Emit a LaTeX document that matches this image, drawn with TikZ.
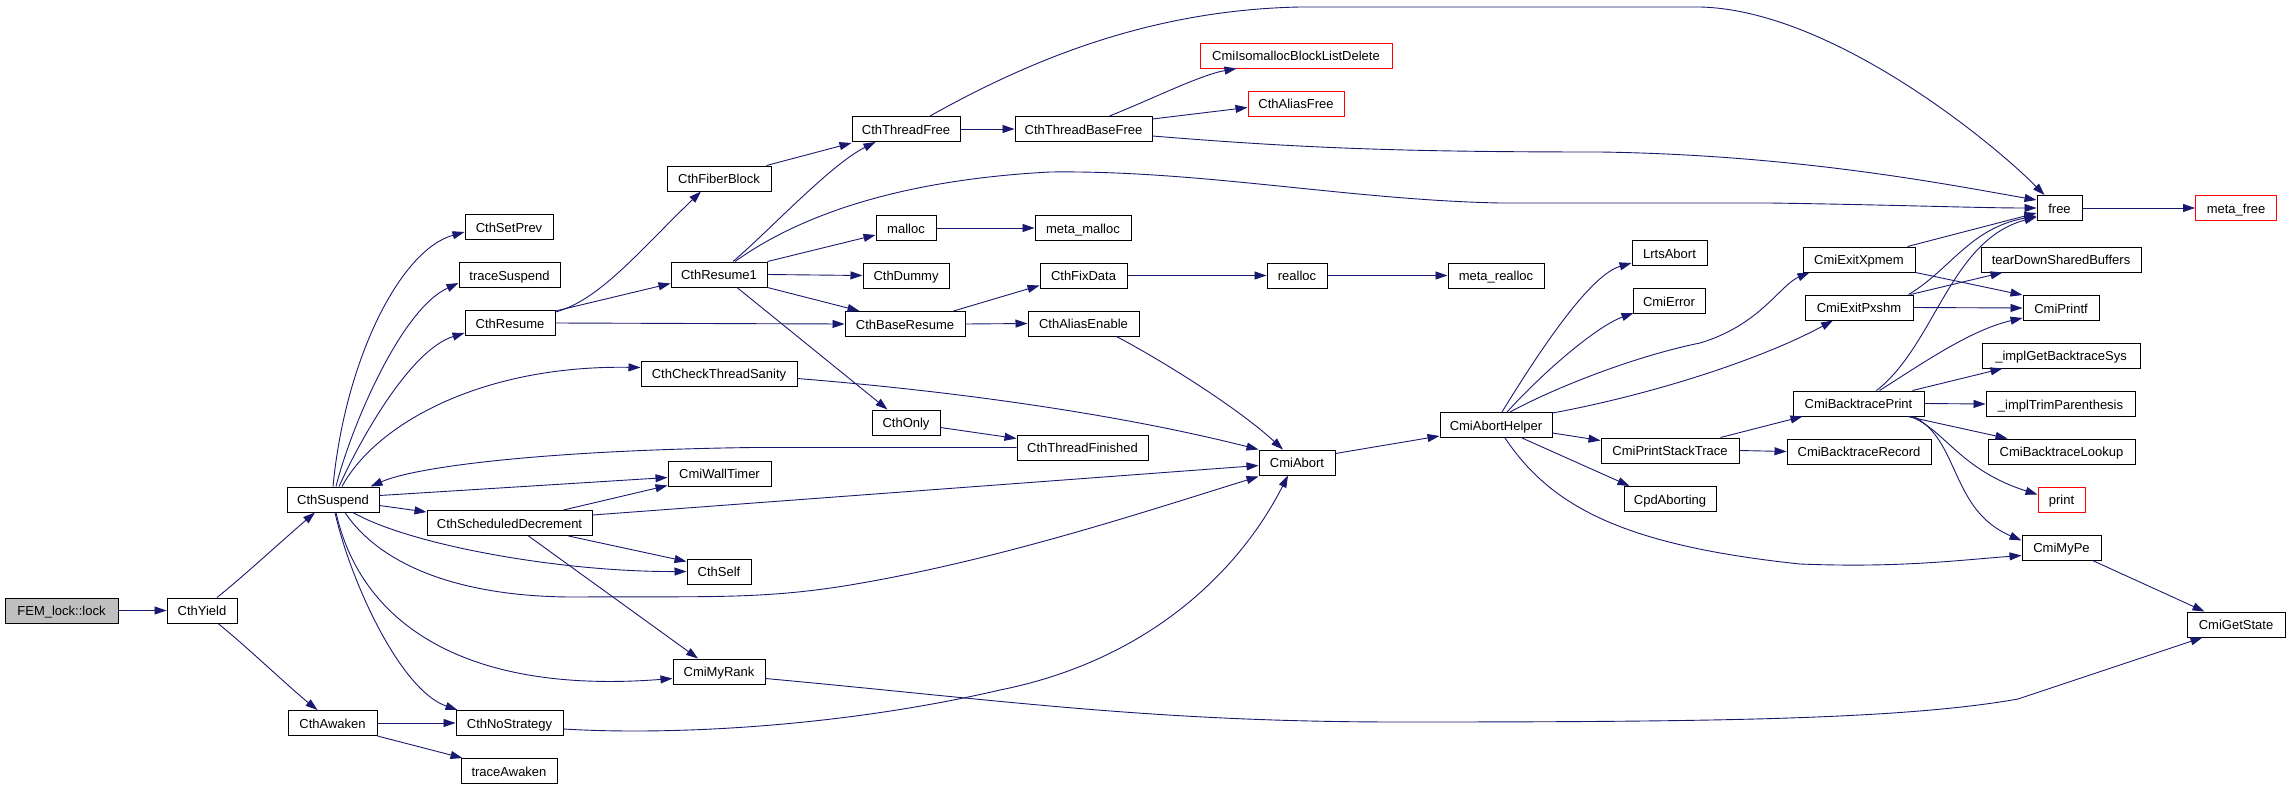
\documentclass[tikz,border=0pt]{standalone}
\usepackage{fontspec}
\setmainfont{Liberation Sans}
\usetikzlibrary{arrows.meta,calc}
\definecolor{edgeblue}{HTML}{191970}
\definecolor{rootgray}{HTML}{BFBFBF}
\begin{document}
\begin{tikzpicture}[x=1pt,y=-1pt,
  fn/.style={draw=black, line width=1pt, fill=white, minimum height=25pt, inner sep=0pt,
    text height=10pt, text depth=0pt, font=\fontsize{13}{15}\selectfont, text=black},
  ext/.style={fn, draw=red},
  root/.style={fn, fill=rootgray},
  call/.style={draw=edgeblue, line width=0.9pt, -{Triangle[length=12pt,width=8pt,fill=edgeblue]}},
]
\fill[white] (0,0) rectangle (2288,787);
\useasboundingbox (0,0) rectangle (2288,787);

% nodes
\node[root, minimum width=113] (fem) at (61.5,610.5) {FEM\_lock::lock};
\node[fn, minimum width=70] (yield) at (202,610.5) {CthYield};
\node[fn, minimum width=92] (suspend) at (333,499.5) {CthSuspend};
\node[fn, minimum width=89] (awaken) at (332.5,723) {CthAwaken};
\node[fn, minimum width=88] (setprev) at (509,227) {CthSetPrev};
\node[fn, minimum width=101] (tracesusp) at (509.5,275) {traceSuspend};
\node[fn, minimum width=90] (resume) at (510,323) {CthResume};
\node[fn, minimum width=165] (sched) at (509.5,523) {CthScheduledDecrement};
\node[fn, minimum width=107] (nostrat) at (509.5,723) {CthNoStrategy};
\node[fn, minimum width=96] (traceawk) at (509,771) {traceAwaken};
\node[fn, minimum width=104] (fiber) at (719,178.5) {CthFiberBlock};
\node[fn, minimum width=96] (resume1) at (719,274.5) {CthResume1};
\node[fn, minimum width=156] (sanity) at (719,373.5) {CthCheckThreadSanity};
\node[fn, minimum width=103] (walltimer) at (719.5,473.5) {CmiWallTimer};
\node[fn, minimum width=64] (self) at (719,571.5) {CthSelf};
\node[fn, minimum width=92] (myrank) at (719,671.5) {CmiMyRank};
\node[fn, minimum width=108] (thfree) at (906,129) {CthThreadFree};
\node[fn, minimum width=60] (malloc) at (906,228) {malloc};
\node[fn, minimum width=86] (dummy) at (906,275.5) {CthDummy};
\node[fn, minimum width=120] (baseres) at (905,324) {CthBaseResume};
\node[fn, minimum width=68] (only) at (906,422.5) {CthOnly};
\node[fn, minimum width=137] (tbfree) at (1083.5,129) {CthThreadBaseFree};
\node[fn, minimum width=96] (metamalloc) at (1083,228) {meta\_malloc};
\node[fn, minimum width=87] (fixdata) at (1083.5,275.5) {CthFixData};
\node[fn, minimum width=111] (aliasen) at (1083.5,323.5) {CthAliasEnable};
\node[fn, minimum width=131] (thfin) at (1082.5,447.5) {CthThreadFinished};
\node[ext, minimum width=192] (isodel) at (1296,55.5) {CmiIsomallocBlockListDelete};
\node[ext, minimum width=96] (aliasfree) at (1296,103.5) {CthAliasFree};
\node[fn, minimum width=60] (realloc) at (1297,275.5) {realloc};
\node[fn, minimum width=76] (cmiabort) at (1297,462.5) {CmiAbort};
\node[fn, minimum width=96] (metarealloc) at (1496,275.5) {meta\_realloc};
\node[fn, minimum width=112] (helper) at (1496,425) {CmiAbortHelper};
\node[fn, minimum width=75] (lrts) at (1669.5,253) {LrtsAbort};
\node[fn, minimum width=72] (cmierror) at (1669,301) {CmiError};
\node[fn, minimum width=138] (pst) at (1670,450.5) {CmiPrintStackTrace};
\node[fn, minimum width=92] (cpd) at (1670,499) {CpdAborting};
\node[fn, minimum width=112] (xpmem) at (1859,259.5) {CmiExitXpmem};
\node[fn, minimum width=108] (pxshm) at (1859,307.5) {CmiExitPxshm};
\node[fn, minimum width=131] (btprint) at (1858.5,403.5) {CmiBacktracePrint};
\node[fn, minimum width=144] (btrecord) at (1859,451.5) {CmiBacktraceRecord};
\node[fn, minimum width=45] (free) at (2059.5,208) {free};
\node[fn, minimum width=160] (teardown) at (2061,259.5) {tearDownSharedBuffers};
\node[fn, minimum width=76] (printf) at (2061,308) {CmiPrintf};
\node[fn, minimum width=158] (getbt) at (2061,355.5) {\_implGetBacktraceSys};
\node[fn, minimum width=149] (trim) at (2060.5,404) {\_implTrimParenthesis};
\node[fn, minimum width=147] (lookup) at (2061.5,451.5) {CmiBacktraceLookup};
\node[ext, minimum width=47] (print) at (2061.5,499.5) {print};
\node[fn, minimum width=79] (mype) at (2061.5,547.5) {CmiMyPe};
\node[ext, minimum width=81] (metafree) at (2236,208) {meta\_free};
\node[fn, minimum width=98] (getstate) at (2236,624.5) {CmiGetState};

% edges
\draw[call] (fem.east) -- (yield.west);
\draw[call] ($(yield.north)+(15,0)$) .. controls (245,575) and (285,538) .. ($(suspend.south)+(-18,0)$);
\draw[call] ($(yield.south)+(16,0)$) .. controls (245,645) and (290,688) .. ($(awaken.north)+(-15,0)$);
\draw[call] (suspend.north) .. controls (345,360) and (400,250) .. ($(setprev.west)+(0,5)$);
\draw[call] ($(suspend.north)+(3,0)$) .. controls (350,430) and (400,310) .. ($(tracesusp.west)+(0,8)$);
\draw[call] ($(suspend.north)+(6,0)$) .. controls (360,440) and (410,350) .. ($(resume.west)+(0,10)$);
\draw[call] ($(suspend.north)+(9,0)$) .. controls (375,425) and (480,365) .. ($(sanity.west)+(0,-6)$);
\draw[call] ($(suspend.east)+(0,-4)$) -- ($(walltimer.west)+(0,4)$);
\draw[call] ($(suspend.east)+(0,6)$) -- ($(sched.north west)+(0,2)$);
\draw[call] ($(suspend.south)+(20,0)$) .. controls (410,545) and (560,572) .. (self.west);
\draw[call] ($(suspend.south)+(12,0)$) .. controls (380,565) and (460,598) .. (580,597)
  .. controls (700,596) and (760,600) .. (850,585)
  .. controls (1000,560) and (1150,510) .. ($(cmiabort.south west)+(0,1)$);
\draw[call] ($(suspend.south)+(3,0)$) .. controls (360,620) and (460,695) .. ($(myrank.west)+(0,7)$);
\draw[call] ($(suspend.south)+(2,0)$) .. controls (350,580) and (400,690) .. ($(nostrat.north west)+(2,0)$);
\draw[call] (thfin.west) -- (753,447.5) .. controls (560,450) and (420,465) .. ($(suspend.north east)+(-9,0)$);
\draw[call] (awaken.east) -- (nostrat.west);
\draw[call] (awaken.south east) -- ($(traceawk.north west)+(2,0)$);
\draw[call] ($(resume.north east)+(0,2)$) .. controls (600,300) and (640,250) .. ($(fiber.south)+(-18,0)$);
\draw[call] ($(resume.north east)+(0,1)$) -- ($(resume1.west)+(0,9)$);
\draw[call] (resume.east) -- (baseres.west);
\draw[call] ($(fiber.north east)+(-5,0)$) -- ($(thfree.south west)+(0,1)$);
\draw[call] ($(resume1.north)+(14,0)$) .. controls (770,230) and (830,165) .. ($(thfree.south west)+(24,0)$);
\draw[call] ($(resume1.north)+(16,0)$) .. controls (800,215) and (900,180) .. (1050,172)
  .. controls (1200,170) and (1350,200) .. (1500,203) -- (1770,203)
  .. controls (1900,205) and (1980,208) .. (free.west);
\draw[call] (resume1.north east) -- ($(malloc.west)+(0,7)$);
\draw[call] (resume1.east) -- (dummy.west);
\draw[call] (resume1.south east) -- ($(baseres.north west)+(15,0)$);
\draw[call] ($(resume1.south)+(18,0)$) -- ($(only.north west)+(16,0)$);
\draw[call] (thfree.east) -- (tbfree.west);
\draw[call] ($(thfree.north)+(24,0)$) .. controls (1030,60) and (1150,10) .. (1300,7) -- (1700,7)
  .. controls (1830,10) and (1990,140) .. ($(free.north)+(-15,0)$);
\draw[call] ($(tbfree.north)+(26,0)$) .. controls (1150,100) and (1200,75) .. ($(isodel.south west)+(37,0)$);
\draw[call] ($(tbfree.north east)+(0,3)$) -- ($(aliasfree.west)+(0,4)$);
\draw[call] ($(tbfree.east)+(0,7)$) .. controls (1300,148) and (1400,152) .. (1600,152)
  .. controls (1800,155) and (1950,185) .. ($(free.west)+(0,-8)$);
\draw[call] (malloc.east) -- (metamalloc.west);
\draw[call] ($(baseres.north east)+(-12,0)$) -- ($(fixdata.south west)+(0,-3)$);
\draw[call] (baseres.east) -- (aliasen.west);
\draw[call] (fixdata.east) -- (realloc.west);
\draw[call] (realloc.east) -- (metarealloc.west);
\draw[call] ($(aliasen.south)+(33,0)$) .. controls (1170,365) and (1240,410) .. ($(cmiabort.north)+(-14,0)$);
\draw[call] ($(sanity.east)+(0,5)$) .. controls (1000,395) and (1150,422) .. (cmiabort.north west);
\draw[call] ($(only.east)+(0,5)$) -- ($(thfin.west)+(0,-9)$);
\draw[call] ($(sched.north east)+(-29,0)$) -- ($(walltimer.south west)+(0,-1)$);
\draw[call] ($(sched.east)+(0,-8)$) -- ($(cmiabort.west)+(0,3)$);
\draw[call] ($(sched.south east)+(-24,0)$) -- ($(self.north west)+(0,3)$);
\draw[call] ($(sched.south)+(19,0)$) -- ($(myrank.north)+(-21,0)$);
\draw[call] ($(myrank.east)+(0,7)$) .. controls (1000,700) and (1150,722) .. (1400,722)
  .. controls (1700,722) and (1900,720) .. (2018,699) -- ($(getstate.south west)+(16,0)$);
\draw[call] ($(nostrat.east)+(0,6)$) .. controls (680,736) and (850,725) .. (1000,690)
  .. controls (1150,660) and (1240,570) .. ($(cmiabort.south)+(-9,0)$);
\draw[call] ($(cmiabort.east)+(0,-9)$) -- ($(helper.west)+(0,11)$);
\draw[call] ($(helper.north)+(6,0)$) .. controls (1540,350) and (1590,275) .. ($(lrts.west)+(0,10)$);
\draw[call] ($(helper.north)+(11,0)$) .. controls (1550,365) and (1600,325) .. ($(cmierror.south west)+(1,-1)$);
\draw[call] ($(helper.north)+(14,0)$) .. controls (1560,385) and (1640,355) .. (1700,343)
  .. controls (1760,325) and (1780,285) .. ($(xpmem.south west)+(7,0)$);
\draw[call] ($(helper.north east)+(0,1)$) .. controls (1650,395) and (1760,360) .. ($(pxshm.south)+(-26,0)$);
\draw[call] ($(helper.east)+(0,8)$) -- ($(pst.west)+(0,-10)$);
\draw[call] ($(helper.south)+(26,0)$) -- ($(cpd.north west)+(6,0)$);
\draw[call] ($(helper.south)+(9,0)$) .. controls (1550,505) and (1620,545) .. (1800,564)
  .. controls (1900,568) and (1960,560) .. ($(mype.west)+(0,8)$);
\draw[call] ($(pst.north east)+(-19,0)$) -- ($(btprint.south west)+(10,0)$);
\draw[call] (pst.east) -- (btrecord.west);
\draw[call] ($(xpmem.north east)+(-8,0)$) -- ($(free.west)+(0,5)$);
\draw[call] (xpmem.south east) -- (printf.north west);
\draw[call] ($(pxshm.north east)+(-3,0)$) -- ($(teardown.south west)+(22,0)$);
\draw[call] (pxshm.east) -- (printf.west);
\draw[call] ($(pxshm.north east)+(-5,0)$) .. controls (1950,270) and (1970,228) .. ($(free.west)+(0,8)$);
\draw[call] ($(btprint.north)+(18,0)$) .. controls (1935,345) and (1950,240) .. ($(free.west)+(0,9)$);
\draw[call] ($(btprint.north)+(21,0)$) .. controls (1920,365) and (1970,330) .. ($(printf.west)+(0,10)$);
\draw[call] ($(btprint.north east)+(-12,0)$) -- ($(getbt.south west)+(21,0)$);
\draw[call] (btprint.east) -- (trim.west);
\draw[call] ($(btprint.south east)+(-17,0)$) -- ($(lookup.north west)+(20,0)$);
\draw[call] ($(btprint.south east)+(-14,0)$) .. controls (1945,430) and (1960,470) .. ($(print.west)+(0,-5)$);
\draw[call] ($(btprint.south east)+(-11,0)$) .. controls (1960,440) and (1950,510) .. ($(mype.west)+(0,-7)$);
\draw[call] (free.east) -- (metafree.west);
\draw[call] ($(mype.south east)+(-9,0)$) -- ($(getstate.north west)+(18,0)$);
\end{tikzpicture}
\end{document}
